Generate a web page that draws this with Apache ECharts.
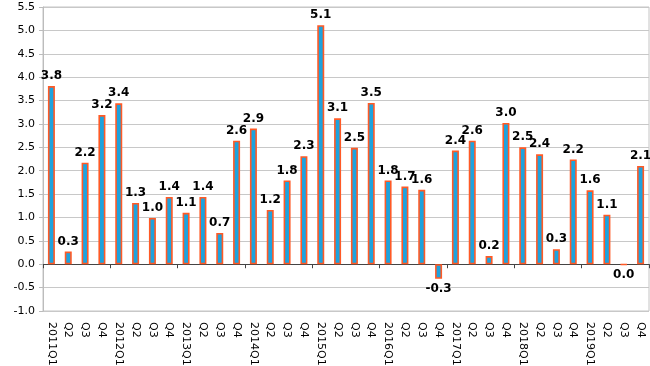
<!DOCTYPE html>
<html>
<head>
<meta charset="utf-8">
<script src="https://cdn.jsdelivr.net/npm/echarts@6/dist/echarts.min.js"></script>
<style>html,body{margin:0;padding:0;background:#fff}#c{width:650px;height:366px}</style>
</head>
<body>
<div id="c"></div>
<script>
var categories = ['2011Q1','Q2','Q3','Q4','2012Q1','Q2','Q3','Q4','2013Q1','Q2','Q3','Q4','2014Q1','Q2','Q3','Q4','2015Q1','Q2','Q3','Q4','2016Q1','Q2','Q3','Q4','2017Q1','Q2','Q3','Q4','2018Q1','Q2','Q3','Q4','2019Q1','Q2','Q3','Q4'];
var values = [3.81,0.27,2.17,3.19,3.44,1.31,0.99,1.44,1.10,1.44,0.67,2.64,2.90,1.16,1.79,2.31,5.11,3.12,2.49,3.45,1.79,1.66,1.59,-0.31,2.43,2.64,0.175,3.02,2.50,2.35,0.32,2.24,1.58,1.06,-0.01,2.10];
var valueLabels = ['3.8','0.3','2.2','3.2','3.4','1.3','1.0','1.4','1.1','1.4','0.7','2.6','2.9','1.2','1.8','2.3','5.1','3.1','2.5','3.5','1.8','1.7','1.6','-0.3','2.4','2.6','0.2','3.0','2.5','2.4','0.3','2.2','1.6','1.1','0.0','2.1'];
var yMin = -1.0, yMax = 5.5, yStep = 0.5;

var chart = echarts.init(document.getElementById('c'));
var FONT = 'DejaVu Sans';
chart.setOption({
  animation: false,
  grid: {left: 43, right: 1, top: 7, bottom: 55, containLabel: false, outerBoundsMode: 'none',
    show: true, borderColor: '#c4c4c4', borderWidth: 1},
  xAxis: [{
    type: 'category', data: categories, position: 'bottom',
    axisLine: {onZero: true, lineStyle: {color: '#444', width: 1}},
    axisTick: {show: true, length: 4, lineStyle: {color: '#444'}},
    axisLabel: {show: false}, splitLine: {show: false}
  }, {
    type: 'category', data: categories, position: 'bottom',
    axisLine: {onZero: false, show: false},
    axisTick: {show: false},
    axisLabel: {show: true, rotate: -90, margin: 11, color: '#000', fontFamily: FONT, fontSize: 11, interval: 0},
    splitLine: {show: false}
  }],
  yAxis: {
    type: 'value', min: yMin, max: yMax, interval: yStep,
    name: '%', nameLocation: 'middle', nameGap: 32, nameRotate: 90,
    nameTextStyle: {color: '#000', fontFamily: FONT, fontSize: 12, padding: [0, 0, 0, -24]},
    axisLine: {show: true, lineStyle: {color: '#bcbcbc'}},
    axisTick: {show: true, length: 4, lineStyle: {color: '#bcbcbc'}},
    axisLabel: {color: '#000', fontFamily: FONT, fontSize: 11, margin: 8,
      formatter: function (v) { return v.toFixed(1); }},
    splitLine: {show: true, lineStyle: {color: '#c8c8c8', width: 1}}
  },
  series: [{
    type: 'bar', xAxisIndex: 0, barWidth: 7,
    itemStyle: {color: '#1EA3DE', borderColor: '#FF5A26', borderWidth: 1.6},
    data: values.map(function (v, i) {
      return {
        value: v,
        label: {
          show: true,
          position: v < 0 ? 'bottom' : 'top',
          distance: 4,
          formatter: valueLabels[i],
          color: '#000', fontFamily: FONT, fontWeight: 'bold', fontSize: 12
        }
      };
    })
  }]
});
</script>
</body>
</html>
